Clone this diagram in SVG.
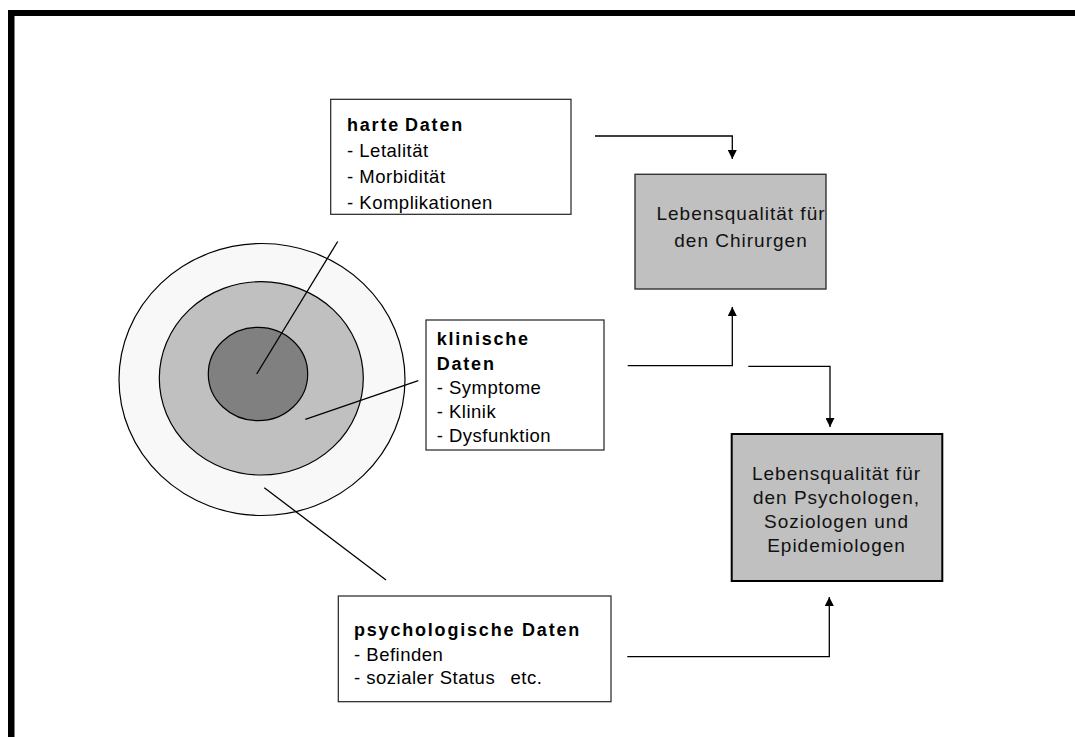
<svg xmlns="http://www.w3.org/2000/svg" width="1075" height="737" viewBox="0 0 1075 737">
<defs>
<marker id="ah" viewBox="0 0 10 10" refX="10" refY="5" markerWidth="9" markerHeight="9" markerUnits="userSpaceOnUse" orient="auto">
<path d="M0,0 L10,5 L0,10 z" fill="#000"/>
</marker>
<style>
.t{font-family:"Liberation Sans",Arial,sans-serif;font-size:18.5px;letter-spacing:0.5px;fill:#000}
.b{font-family:"Liberation Sans",Arial,sans-serif;font-size:18px;font-weight:bold;letter-spacing:1.8px;fill:#000}
.q{font-family:"Liberation Sans",Arial,sans-serif;font-size:19px;letter-spacing:1px;fill:#111;text-anchor:middle}
.box{fill:#fff;stroke:#222;stroke-width:1.2}
.gbox{fill:#c0c0c0;stroke:#333;stroke-width:1.4}
.con{fill:none;stroke:#000;stroke-width:1.3}
</style>
</defs>
<rect x="0" y="0" width="1075" height="737" fill="#fff"/>
<g id="frame">
<rect x="8" y="10" width="1067" height="6" fill="#000"/>
<rect x="8" y="10" width="6.5" height="727" fill="#000"/>
</g>
<g id="circles">
<ellipse cx="262" cy="379.5" rx="143" ry="136" fill="#f8f8f8" stroke="#000" stroke-width="1.2"/>
<ellipse cx="261.3" cy="378.3" rx="102" ry="96.7" fill="#c0c0c0" stroke="#000" stroke-width="1.2"/>
<ellipse cx="258" cy="374" rx="49.7" ry="46.7" fill="#808080" stroke="#000" stroke-width="1.2"/>
</g>
<g id="node-harte">
<rect class="box" x="330.7" y="99.3" width="240.3" height="115"/>
<text class="b" x="347" y="131">harte<tspan x="405">Daten</tspan></text>
<text class="t" x="347" y="157">- Letalität</text>
<text class="t" x="347" y="183">- Morbidität</text>
<text class="t" x="347" y="209">- Komplikationen</text>
</g>
<g id="node-klinisch">
<rect class="box" x="426" y="320" width="178" height="130"/>
<text class="b" x="436.7" y="345">klinische</text>
<text class="b" x="436.7" y="370">Daten</text>
<text class="t" x="436.7" y="394">- Symptome</text>
<text class="t" x="436.7" y="418">- Klinik</text>
<text class="t" x="436.7" y="442">- Dysfunktion</text>
</g>
<g id="node-psych">
<rect class="box" x="338.3" y="596" width="272.7" height="105.7"/>
<text class="b" x="354" y="636">psychologische Daten</text>
<text class="t" x="354" y="661">- Befinden</text>
<text class="t" x="354" y="684">- sozialer Status<tspan x="510.5">etc.</tspan></text>
</g>
<g id="node-chirurg">
<rect class="gbox" x="635" y="174.3" width="191" height="114.7"/>
<text class="q" x="741" y="220">Lebensqualität für</text>
<text class="q" x="741" y="247">den Chirurgen</text>
</g>
<g id="node-psychologen">
<rect x="731.7" y="434" width="210.6" height="147" fill="#c0c0c0" stroke="#000" stroke-width="2"/>
<text class="q" x="836.5" y="480">Lebensqualität für</text>
<text class="q" x="836.5" y="504">den Psychologen,</text>
<text class="q" x="836.5" y="528">Soziologen und</text>
<text class="q" x="836.5" y="552">Epidemiologen</text>
</g>
<g id="connectors">
<line class="con" x1="337.7" y1="241.5" x2="256.7" y2="374"/>
<line class="con" x1="418.3" y1="380.7" x2="305.3" y2="419.3"/>
<line class="con" x1="264.3" y1="487.7" x2="386" y2="580"/>
<polyline class="con" points="595,136 732.3,136 732.3,159" marker-end="url(#ah)"/>
<polyline class="con" points="627.7,365.7 732.3,365.7 732.3,307" marker-end="url(#ah)"/>
<polyline class="con" points="748.3,366.3 830,366.3 830,427" marker-end="url(#ah)"/>
<polyline class="con" points="627.3,656.7 829.3,656.7 829.3,597" marker-end="url(#ah)"/>
</g>
</svg>
